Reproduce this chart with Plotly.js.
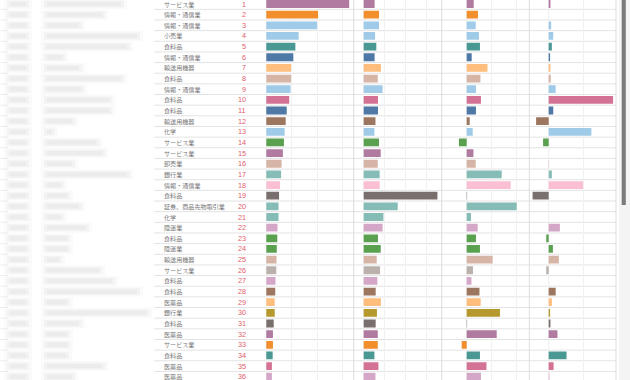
<!DOCTYPE html>
<html><head><meta charset="utf-8">
<script src="https://cdn.plot.ly/plotly-3.0.1.min.js"></script>
<style>html,body{margin:0;padding:0;background:#fff;overflow:hidden;}#chart{width:630px;height:380px;}</style>
</head><body><div id="chart"></div>
<script>
const ranks = [1,2,3,4,5,6,7,8,9,10,11,12,13,14,15,16,17,18,19,20,21,22,23,24,25,26,27,28,29,30,31,32,33,34,35,36];
const sectors = ['サービス業','情報・通信業','情報・通信業','小売業','食料品','情報・通信業','輸送用機器','食料品','情報・通信業','食料品','食料品','輸送用機器',
  '化学','サービス業','サービス業','卸売業','銀行業','情報・通信業','食料品','証券、商品先物取引業','化学','陸運業','食料品','陸運業',
  '輸送用機器','サービス業','食料品','食料品','医薬品','銀行業','食料品','医薬品','サービス業','食料品','医薬品','医薬品'];
const barColors = ['#b07aa1','#f28e2b','#a0cbe8','#a0cbe8','#499894','#4e79a7','#ffbe7d','#d7b5a6','#a0cbe8','#d37295','#4e79a7','#9d7660',
  '#a0cbe8','#59a14f','#b07aa1','#d7b5a6','#86bcb6','#fabfd2','#79706e','#86bcb6','#86bcb6','#d4a6c8','#59a14f','#59a14f',
  '#d7b5a6','#bab0ac','#d4a6c8','#9d7660','#ffbe7d','#b6992d','#79706e','#b07aa1','#f28e2b','#499894','#d37295','#d4a6c8'];
const metricA = [32.5,20.3,19.9,12.7,11.4,10.6,9.7,9.7,9.5,9.0,8.0,7.6,7.2,6.9,6.5,6.0,5.8,5.4,5.0,4.8,4.8,4.4,4.3,4.1,4.0,3.9,3.6,3.5,3.3,3.3,2.9,2.6,2.6,2.5,2.2,2.2];
const metricB = [5.2,7.3,7.3,5.4,6.0,5.2,8.2,6.7,9.0,6.8,6.8,5.6,5.1,7.3,8.1,6.7,7.6,7.6,35.1,16.2,9.4,9.0,6.8,8.1,6.2,7.8,6.5,5.7,8.2,6.3,5.7,6.7,6.7,5.1,7.0,5.6];
const metricC = [2.8,4.5,3.6,4.9,5.3,2.0,8.3,5.5,3.7,5.7,3.7,1.2,2.4,-3.1,2.7,3.6,14.0,17.6,0.15,20.0,1.7,4.4,3.7,5.3,10.4,2.5,1.9,5.1,5.6,13.3,0.15,12.0,-2.0,5.3,7.9,5.7];
const metricD = [0.5,0,0.7,1.3,0.9,0.4,0.5,0.6,2.0,18.4,1.3,-3.6,12.2,-1.6,0,0.1,0.9,9.8,-4.6,0,0,3.2,-0.7,1.2,2.9,-0.7,0,2.0,0.9,0.4,0.5,2.5,0,5.1,1.4,0.2];
// widths of the blurred (unreadable) company-name smudges, in px
const nameBlobEnds = [122,103,80,138,128,63,80,122,82,110,110,73,53,97,103,73,128,62,68,80,62,87,68,68,60,100,113,138,68,147,80,68,68,67,103,73];

const W = 630, H = 380;
const px = v => v / W;

const axisIds = ['x','x2','x3','x4'];
const traces = [metricA, metricB, metricC, metricD].map((vals, i) => ({
  type: 'bar', orientation: 'h', y: ranks, x: vals,
  xaxis: axisIds[i], yaxis: 'y',
  marker: {color: barColors, line: {width: 0}},
  width: 0.73, hoverinfo: 'none', showlegend: false
}));

function xax(d0, d1, r0, r1) {
  return {domain: [px(d0), px(d1)], range: [r0, r1], anchor: 'y', showgrid: true, dtick: 10, tick0: 0,
    gridcolor: '#f1f1f1', gridwidth: 1, zeroline: false, showticklabels: false, ticks: '', showline: false, fixedrange: true};
}

const shapes = [];
// row separators
for (let k = 0; k <= 36; k++) {
  shapes.push({type: 'line', xref: 'paper', yref: 'y', x0: px(154), x1: px(616), y0: k + 0.5, y1: k + 0.5,
    line: {color: '#e3e3e3', width: 1}, layer: 'below'});
  shapes.push({type: 'line', xref: 'paper', yref: 'y', x0: 0, x1: px(8), y0: k + 0.5, y1: k + 0.5,
    line: {color: '#eeeeee', width: 1}, layer: 'below'});
}
// column dividers
[353.7, 441.7, 529.3, 616].forEach(xv => shapes.push({type: 'line', xref: 'paper', yref: 'paper',
  x0: px(xv), x1: px(xv), y0: 0, y1: 1, line: {color: '#dcdcdc', width: 1}, layer: 'below'}));
// faint dotted zero line in last column
shapes.push({type: 'line', xref: 'x4', yref: 'paper', x0: 0, x1: 0, y0: 0, y1: 1,
  line: {color: '#e4e4e4', width: 1, dash: 'dot'}, layer: 'below'});
// blurred name smudges (soft, layered)
ranks.forEach((r, i) => {
  [[9, 27], [46, nameBlobEnds[i]]].forEach(([a, b]) => {
    shapes.push({type: 'rect', xref: 'paper', yref: 'y', x0: px(a - 5), x1: px(b + 5), y0: r - 0.47, y1: r + 0.47,
      fillcolor: '#d0d0d0', opacity: 0.11, line: {width: 0}, layer: 'below'});
    shapes.push({type: 'rect', xref: 'paper', yref: 'y', x0: px(a - 2), x1: px(b + 2), y0: r - 0.33, y1: r + 0.33,
      fillcolor: '#cccccc', opacity: 0.13, line: {width: 0}, layer: 'below'});
    shapes.push({type: 'rect', xref: 'paper', yref: 'y', x0: px(a + 1), x1: px(b - 1), y0: r - 0.2, y1: r + 0.2,
      fillcolor: '#c4c4c4', opacity: 0.16, line: {width: 0}, layer: 'below'});
  });
});
// scrollbar
shapes.push({type: 'rect', xref: 'paper', yref: 'paper', x0: px(619), x1: 1, y0: 0, y1: 1,
  fillcolor: '#f4f4f4', line: {width: 0}});
shapes.push({type: 'rect', xref: 'paper', yref: 'paper', x0: px(621.7), x1: px(625.8), y0: 1 - 205 / H, y1: 1,
  fillcolor: '#7b7b7b', line: {width: 0}});

const annotations = [];
ranks.forEach((r, i) => {
  annotations.push({xref: 'paper', yref: 'y', x: px(162), y: r, xanchor: 'left', yanchor: 'middle',
    text: sectors[i], showarrow: false, font: {family: 'Noto Sans CJK JP, sans-serif', size: 6.1, color: '#787878'}});
  annotations.push({xref: 'paper', yref: 'y', x: px(248), y: r, xanchor: 'right', yanchor: 'middle',
    text: String(r), showarrow: false, font: {family: 'Liberation Sans, Arial, sans-serif', size: 7.3, color: '#e2606a'}});
});

const layout = {
  width: W, height: H, margin: {l: 0, r: 0, t: 0, b: 0},
  paper_bgcolor: '#fff', plot_bgcolor: 'rgba(0,0,0,0)',
  barmode: 'overlay', showlegend: false,
  xaxis: xax(260, 353.7, -2.47, 34.27),
  xaxis2: xax(353.7, 441.7, -4.76, 37.14),
  xaxis3: xax(441.7, 529.3, -10, 25.04),
  xaxis4: xax(529.3, 616, -5.54, 19.23),
  yaxis: {domain: [0, 1], range: [36.305, 0.624], showgrid: false, zeroline: false, showticklabels: false,
    ticks: '', showline: false, fixedrange: true},
  shapes: shapes, annotations: annotations
};

Plotly.newPlot('chart', traces, layout, {staticPlot: true, displayModeBar: false});
</script></body></html>
